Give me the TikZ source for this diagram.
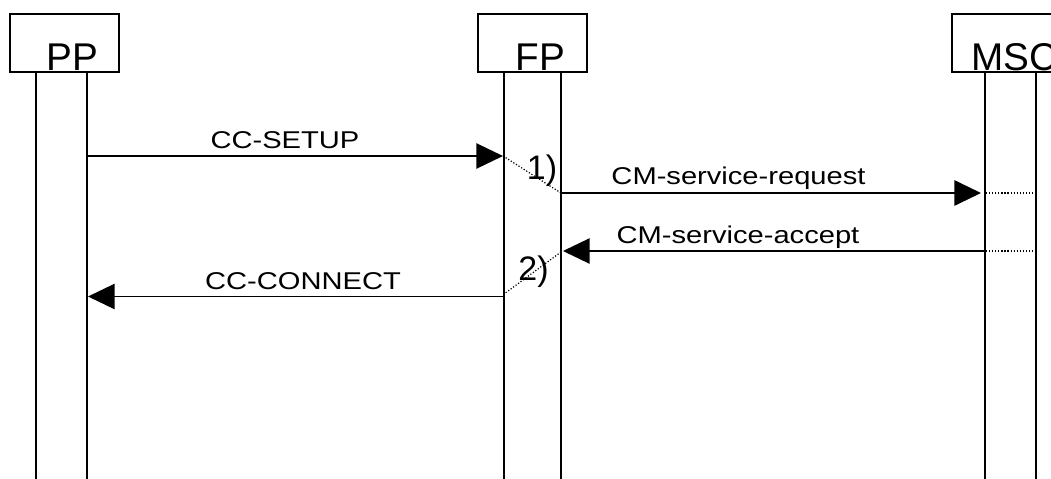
\documentclass[tikz,border=0pt]{standalone}
\usepackage{fontspec}
\setmainfont{Liberation Sans}
\newfontfamily\lblfont[FakeStretch=1.2]{Liberation Sans}
\usetikzlibrary{arrows.meta,calc}
\begin{document}
\begin{tikzpicture}[x=0.75pt,y=-0.75pt,
  box/.style={draw, line width=1pt, minimum width=81.75pt, minimum height=43.5pt, inner sep=0pt},
  title/.style={font=\fontsize{29}{31}\selectfont, anchor=base, inner sep=0pt},
  life/.style={line width=1.05pt},
  msg/.style={line width=1.05pt, -{Triangle[length=20pt,width=19pt]}},
  lbl/.style={font=\lblfont\fontsize{18.2}{20}\selectfont, anchor=base, inner sep=0pt},
  num/.style={font=\fontsize{25.5}{28}\selectfont, anchor=base, inner sep=0pt},
  dots/.style={line width=0.9pt, dash pattern=on 0.9pt off 1.4pt}]
\clip (0,0) rectangle (1051,479);
% entity boxes
\node[box] (pp) at (64.5,43) {};
\node[box] (fp) at (532.5,43) {};
\node[box] (msc) at (1006.5,43) {};
\node[title] (ppt) at (72.5,70) {PP};
\node[title] (fpt) at (540.5,70) {FP};
\node[title] (msct) at (1014.5,70) {MSC};
% lifelines
\coordinate (ppL) at (36,72);   \coordinate (ppLb) at (36,480);
\coordinate (ppR) at (87,72);   \coordinate (ppRb) at (87,480);
\coordinate (fpL) at (504,72);  \coordinate (fpLb) at (504,480);
\coordinate (fpR) at (561,72);  \coordinate (fpRb) at (561,480);
\coordinate (mL) at (985,72);   \coordinate (mLb) at (985,480);
\coordinate (mR) at (1036,72);  \coordinate (mRb) at (1036,480);
\draw[life] (ppL) -- (ppLb);
\draw[life] (ppR) -- (ppRb);
\draw[life] (fpL) -- (fpLb);
\draw[life] (fpR) -- (fpRb);
\draw[life] (mL) -- (mLb);
\draw[life] (mR) -- (mRb);
% message end points
\coordinate (s1) at (87,156);   \coordinate (e1) at (503,156);
\coordinate (s2) at (561,193);  \coordinate (e2) at (981,193);
\coordinate (s3) at (985,251);  \coordinate (e3) at (563,251);
\coordinate (s4) at (504,296.5);\coordinate (e4) at (88,296.5);
\coordinate (d1a) at (503,156); \coordinate (d1b) at (561,193);
\coordinate (d2a) at (561,252); \coordinate (d2b) at (504,294);
\coordinate (d3a) at (986,193); \coordinate (d3b) at (1036,193);
\coordinate (d4a) at (986,251); \coordinate (d4b) at (1036,251);
% messages
\draw[msg] (s1) -- (e1);
\draw[msg, line width=1.5pt] (s2) -- (e2);
\draw[msg] (s3) -- (e3);
\draw[msg] (s4) -- (e4);
\draw[dots] (d1a) -- (d1b);
\draw[dots] (d2a) -- (d2b);
\draw[dots] (d3a) -- (d3b);
\draw[dots] (d4a) -- (d4b);
% labels
\node[lbl] (l1) at (285,148) {CC-SETUP};
\node[lbl] (l2) at (738.5,184) {CM-service-request};
\node[lbl] (l3) at (738,243.5) {CM-service-accept};
\node[lbl] (l4) at (303,289) {CC-CONNECT};
\node[num] (n1) at (542,179) {1)};
\node[num] (n2) at (533.5,280) {2)};
\end{tikzpicture}
\end{document}
